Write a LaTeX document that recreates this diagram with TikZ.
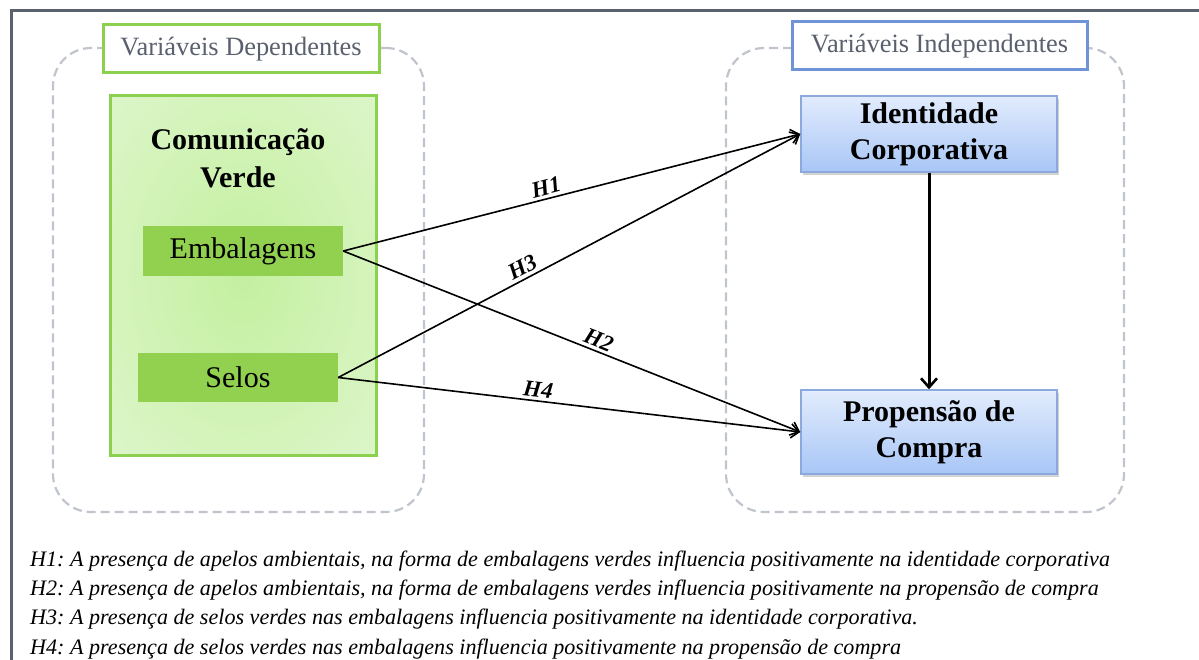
\documentclass[tikz,border=0pt]{standalone}
\usepackage{fontspec}
\setmainfont{Liberation Serif}
\usetikzlibrary{arrows.meta,shadows}
\definecolor{framegray}{RGB}{90,98,112}
\definecolor{dashgray}{RGB}{192,196,204}
\definecolor{labelgray}{RGB}{90,96,110}
\definecolor{leafgreen}{RGB}{146,208,80}
\definecolor{edgegreen}{RGB}{140,208,80}
\definecolor{edgeblue}{RGB}{111,147,214}
\definecolor{skytop}{RGB}{226,236,253}
\definecolor{skybottom}{RGB}{168,198,246}
\definecolor{mintcore}{RGB}{196,240,160}
\definecolor{mintrim}{RGB}{230,248,218}
\pgfdeclareradialshading{softmint}{\pgfpoint{0bp}{0bp}}{color(0bp)=(mintcore); color(50bp)=(mintrim)}
\begin{document}
\frenchspacing
\begin{tikzpicture}[x=1pt,y=-1pt,
    region/.style={draw=dashgray,line width=2.2pt,dash pattern=on 9pt off 5pt,rounded corners=38pt},
    header/.style={rectangle,fill=white,line width=3pt,text=labelgray,font=\fontsize{26.4}{30}\selectfont,inner sep=0pt},
    item/.style={rectangle,fill=leafgreen,minimum width=200pt,font=\fontsize{30}{34}\selectfont,inner sep=0pt},
    target/.style={rectangle,draw=edgeblue!80,line width=1.5pt,top color=skytop,bottom color=skybottom,
        minimum width=256pt,align=center,font=\bfseries\fontsize{30}{36}\selectfont,inner sep=0pt,
        drop shadow={shadow xshift=2pt,shadow yshift=-3pt,opacity=0.35}},
    link/.style={-{Straight Barb[length=8pt,width=14pt,line width=1.6pt]},line width=1.6pt},
    hyp/.style={font=\bfseries\itshape\fontsize{23}{26}\selectfont,above,sloped,inner sep=3pt},
    note/.style={anchor=base west,font=\itshape\fontsize{22.1}{29}\selectfont,inner sep=0pt}]
\useasboundingbox (0,0) rectangle (1199,660);

% moldura
\draw[framegray,line width=3pt] (11,680) -- (11,11) -- (1220,11);

% grupos
\node[region,minimum width=371pt,minimum height=464pt] (depzone) at (238.5,280) {};
\node[region,minimum width=398pt,minimum height=464pt] (indzone) at (925,280) {};
\node[header,draw=edgegreen,minimum width=276pt,minimum height=48pt] (dephead) at (241,49) {Variáveis Dependentes};
\node[header,draw=edgeblue,minimum width=295pt,minimum height=48pt] (indhead) at (939.5,46) {Variáveis Independentes};

% comunicacao verde
\node[rectangle,draw=edgegreen,line width=3pt,shading=softmint,minimum width=266pt,minimum height=359pt] (comm) at (243,275.5) {};
\node[align=center,font=\bfseries\fontsize{30}{38}\selectfont] (commlabel) at (238,158) {Comunicação\\Verde};
\node[item,minimum height=50pt] (emb) at (243,251) {Embalagens};
\node[item,minimum height=49pt] (selos) at (238,377.5) {Selos};

% variaveis dependentes
\node[target,minimum height=76pt] (ident) at (929,134) {Identidade\\Corporativa};
\node[target,minimum height=84pt] (prop) at (929,432) {Propensão de\\Compra};

% hipoteses
\draw[link] (emb.east) to node[hyp,pos=0.45] {H1} (ident.west);
\draw[link] (emb.east) to node[hyp,pos=0.55] {H2} (prop.west);
\draw[link] (selos.east) to node[hyp,pos=0.41] {H3} (ident.west);
\draw[link] (selos.east) to node[hyp,pos=0.43] {H4} (prop.west);
\draw[-{Straight Barb[length=9pt,width=16pt,line width=2.6pt]},line width=3pt] (ident.south) to (prop.north);

% legenda
\node[note] (h1note) at (30,566) {H1: A presença de apelos ambientais, na forma de embalagens verdes influencia positivamente na identidade corporativa};
\node[note] (h2note) at (30,595) {H2: A presença de apelos ambientais, na forma de embalagens verdes influencia positivamente na propensão de compra};
\node[note] (h3note) at (30,624) {H3: A presença de selos verdes nas embalagens influencia positivamente na identidade corporativa.};
\node[note] (h4note) at (30,654) {H4: A presença de selos verdes nas embalagens influencia positivamente na propensão de compra};
\end{tikzpicture}
\end{document}
